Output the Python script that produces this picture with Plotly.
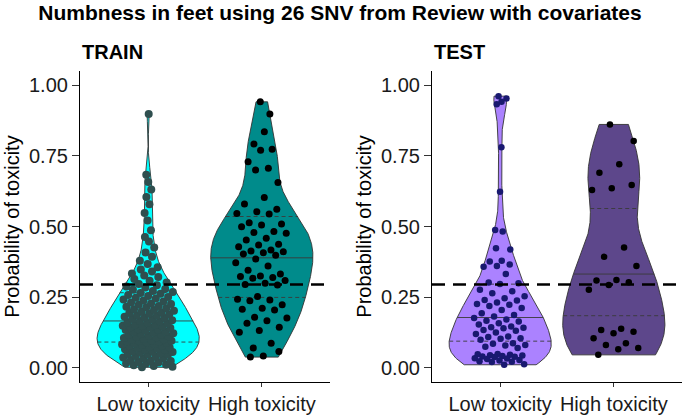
import numpy as np
import plotly.graph_objects as go

categories = ["Low toxicity", "High toxicity"]
panel_titles = ["TRAIN", "TEST"]
main_title = "Numbness in feet using 26 SNV from Review with covariates"
y_title = "Probability of toxicity"
y_tick_vals = [0.0, 0.25, 0.5, 0.75, 1.0]
y_tick_text = ["0.00", "0.25", "0.50", "0.75", "1.00"]
threshold = 0.295

train_low = [
    0.002, 0.004, 0.007, 0.009, 0.011, 0.015, 0.016, 0.019, 0.021, 0.024, 0.025, 0.028,
    0.033, 0.034, 0.037, 0.039, 0.042, 0.046, 0.047, 0.049,
    0.051, 0.054, 0.056, 0.058, 0.059, 0.063, 0.065, 0.066, 0.068, 0.070, 0.072, 0.074,
    0.077, 0.079, 0.081, 0.083, 0.084, 0.086, 0.088, 0.090, 0.092, 0.093, 0.095, 0.096,
    0.098, 0.099,
    0.101, 0.102, 0.106, 0.108, 0.109, 0.112, 0.114, 0.116, 0.118, 0.121, 0.122, 0.125,
    0.127, 0.128, 0.131, 0.134, 0.135, 0.137, 0.141, 0.143, 0.144, 0.146, 0.148, 0.149,
    0.152, 0.153, 0.157, 0.159, 0.161, 0.164, 0.166, 0.168, 0.171, 0.173, 0.176, 0.178,
    0.181, 0.184, 0.186, 0.189, 0.191, 0.194, 0.196, 0.199,
    0.202, 0.205, 0.207, 0.211, 0.214, 0.216, 0.219, 0.223, 0.226, 0.228, 0.231, 0.235,
    0.238, 0.242, 0.245, 0.248,
    0.251, 0.254, 0.258, 0.262, 0.265, 0.268, 0.272, 0.276, 0.279, 0.284, 0.288, 0.292,
    0.297,
    0.302, 0.308, 0.314, 0.321, 0.327, 0.334, 0.341, 0.348,
    0.356, 0.367, 0.379, 0.393,
    0.408, 0.426, 0.447, 0.463, 0.487,
    0.521, 0.548, 0.579, 0.604, 0.631, 0.657, 0.683,
    0.898,
]

train_high = [
    0.941, 0.898, 0.835, 0.792, 0.773, 0.770, 0.729, 0.706, 0.700, 0.656, 0.603, 0.580,
    0.561, 0.552, 0.546, 0.544, 0.513, 0.509, 0.505, 0.499, 0.482, 0.479, 0.476, 0.458,
    0.452, 0.437, 0.435, 0.428, 0.417, 0.413, 0.411, 0.407, 0.403, 0.398, 0.385, 0.372,
    0.360, 0.345, 0.332, 0.325, 0.323, 0.320, 0.317, 0.309, 0.299, 0.295, 0.293, 0.252,
    0.243, 0.240, 0.237, 0.223, 0.211, 0.207, 0.205, 0.179, 0.176, 0.167, 0.158, 0.144,
    0.132, 0.126, 0.087, 0.070, 0.058, 0.042, 0.038,
]

test_low = [
    0.961, 0.953, 0.941, 0.932, 0.780, 0.623,
    0.488, 0.482, 0.423, 0.419, 0.379, 0.376, 0.366, 0.360, 0.358, 0.332, 0.302, 0.299,
    0.297, 0.276, 0.271, 0.264, 0.253, 0.246, 0.240, 0.238, 0.231, 0.226, 0.223, 0.219,
    0.212, 0.205, 0.193, 0.187, 0.182, 0.176, 0.171,
    0.167, 0.164, 0.158, 0.153, 0.146, 0.144, 0.142, 0.140, 0.134, 0.131, 0.125, 0.120,
    0.111, 0.109, 0.105, 0.103, 0.099, 0.087, 0.085, 0.081, 0.079, 0.075, 0.070,
    0.049, 0.048, 0.046, 0.045, 0.044, 0.042, 0.040, 0.039, 0.038, 0.034, 0.033, 0.031,
    0.028, 0.026, 0.023, 0.022, 0.021, 0.013, 0.011,
]

test_high = [
    0.861, 0.802, 0.720, 0.690, 0.647, 0.635, 0.629, 0.426, 0.393, 0.360, 0.311, 0.309,
    0.303, 0.293, 0.276, 0.138, 0.134, 0.128, 0.122, 0.105, 0.087, 0.081, 0.070, 0.066,
    0.046,
]

panels = [
    {"groups": [train_low, train_high], "fills": ["#00FFFF", "#008B8B"],
     "points": ["#2F4F4F", "#000000"], "sizes": [8, 7], "x": "x", "y": "y"},
    {"groups": [test_low, test_high], "fills": ["#AB82FF", "#5D478B"],
     "points": ["#191970", "#000000"], "sizes": [6.5, 6.5], "x": "x2", "y": "y2"},
]


def bw_nrd0(v):
    v = np.asarray(v, dtype=float)
    sd = v.std(ddof=1)
    q75, q25 = np.percentile(v, [75, 25])
    lo = min(sd, (q75 - q25) / 1.34)
    if lo <= 0:
        lo = sd if sd > 0 else 1.0
    return 0.9 * lo * len(v) ** -0.2


def violin_stats(values):
    v = np.asarray(values, dtype=float)
    bw = bw_nrd0(v)
    grid = np.linspace(v.min(), v.max(), 512)
    dens = np.exp(-0.5 * ((grid[:, None] - v[None, :]) / bw) ** 2).sum(axis=1)
    dens = dens / (len(v) * bw * np.sqrt(2 * np.pi))
    width = dens / dens.max()
    cum = np.cumsum(dens) / dens.sum()
    qs = np.interp([0.25, 0.5, 0.75], cum, grid)
    qw = np.interp(qs, grid, width)
    return grid, width, qs, qw


HALF = 0.45
JW = 0.23
fig = go.Figure()

for p in panels:
    for gi, vals in enumerate(p["groups"]):
        pos = gi + 1
        grid, width, qs, qw = violin_stats(vals)
        xs = np.concatenate([pos - HALF * width, (pos + HALF * width)[::-1], [pos - HALF * width[0]]])
        ys = np.concatenate([grid, grid[::-1], [grid[0]]])
        fig.add_trace(go.Scatter(x=xs, y=ys, mode="lines", fill="toself",
                                 fillcolor=p["fills"][gi],
                                 line=dict(color="#333333", width=0.9),
                                 xaxis=p["x"], yaxis=p["y"], hoverinfo="skip",
                                 showlegend=False))
        for k, dash in [(0, "dash"), (2, "dash"), (1, "solid")]:
            fig.add_trace(go.Scatter(x=[pos - HALF * qw[k], pos + HALF * qw[k]],
                                     y=[qs[k], qs[k]], mode="lines",
                                     line=dict(color="#3a3a3a", width=0.9,
                                               dash="4px,3px" if dash == "dash" else "solid"),
                                     xaxis=p["x"], yaxis=p["y"], hoverinfo="skip",
                                     showlegend=False))
        n = len(vals)
        u = ((np.arange(n) * 0.6180339887 + 0.37) % 1.0 - 0.5) * 2
        local_w = np.interp(vals, grid, width)
        jit = u * JW * np.minimum(1.0, local_w / 0.5)
        fig.add_trace(go.Scatter(x=pos + jit, y=vals, mode="markers",
                                 marker=dict(color=p["points"][gi], size=p["sizes"][gi],
                                             line=dict(width=0)),
                                 xaxis=p["x"], yaxis=p["y"], showlegend=False))

for xa in ["x", "x2"]:
    ya = "y" if xa == "x" else "y2"
    fig.add_shape(type="line", xref=f"{xa} domain", x0=0, x1=1, yref=ya,
                  y0=threshold, y1=threshold, layer="above",
                  line=dict(color="black", width=2.6, dash="13px,8px"))

font_family = "Liberation Sans, Arial, sans-serif"
common_x = dict(range=[0.4, 2.6], tickvals=[1, 2], ticktext=categories, automargin=False,
                showline=True, linecolor="black", linewidth=1.1, ticks="outside",
                ticklen=4, tickcolor="#333333", tickwidth=1.1, showgrid=False,
                zeroline=False, tickfont=dict(size=20, color="#1a1a1a", family=font_family))
common_y = dict(range=[-0.05, 1.05], tickvals=y_tick_vals, ticktext=y_tick_text,
                automargin=False,
                showline=True, linecolor="black", linewidth=1.1, ticks="outside",
                ticklen=7, tickcolor="#333333", tickwidth=1.1, showgrid=False,
                zeroline=False, tickfont=dict(size=20, color="#1a1a1a", family=font_family),
                title=dict(text=y_title, font=dict(size=20, color="black", family=font_family),
                           standoff=4))

left_end = 250 / 602
right_start = 352 / 602
fig.update_layout(
    width=685, height=416,
    margin=dict(l=80, r=3, t=71, b=34, autoexpand=False),
    paper_bgcolor="white", plot_bgcolor="white",
    font=dict(family=font_family),
    xaxis=dict(domain=[0, left_end], anchor="y", **common_x),
    xaxis2=dict(domain=[right_start, 1], anchor="y2", **common_x),
    yaxis=dict(domain=[0, 1], anchor="x", **common_y),
    yaxis2=dict(domain=[0, 1], anchor="x2", **common_y),
    title=dict(text="<b>" + main_title + "</b>", x=340 / 685, xanchor="center",
               xref="container", y=1 - 13 / 416, yref="container", yanchor="middle",
               font=dict(size=21, color="black", family=font_family)),
    annotations=[
        dict(text="<b>" + panel_titles[0] + "</b>", xref="paper", yref="paper",
             x=0, y=1 + 19 / 311, xanchor="left", yanchor="middle", showarrow=False,
             font=dict(size=20, color="black", family=font_family)),
        dict(text="<b>" + panel_titles[1] + "</b>", xref="paper", yref="paper",
             x=right_start, y=1 + 19 / 311, xanchor="left", yanchor="middle", showarrow=False,
             font=dict(size=20, color="black", family=font_family)),
    ],
)

fig.write_html("out.html", config={"displayModeBar": False},
               post_script="document.body.style.margin='0';")
